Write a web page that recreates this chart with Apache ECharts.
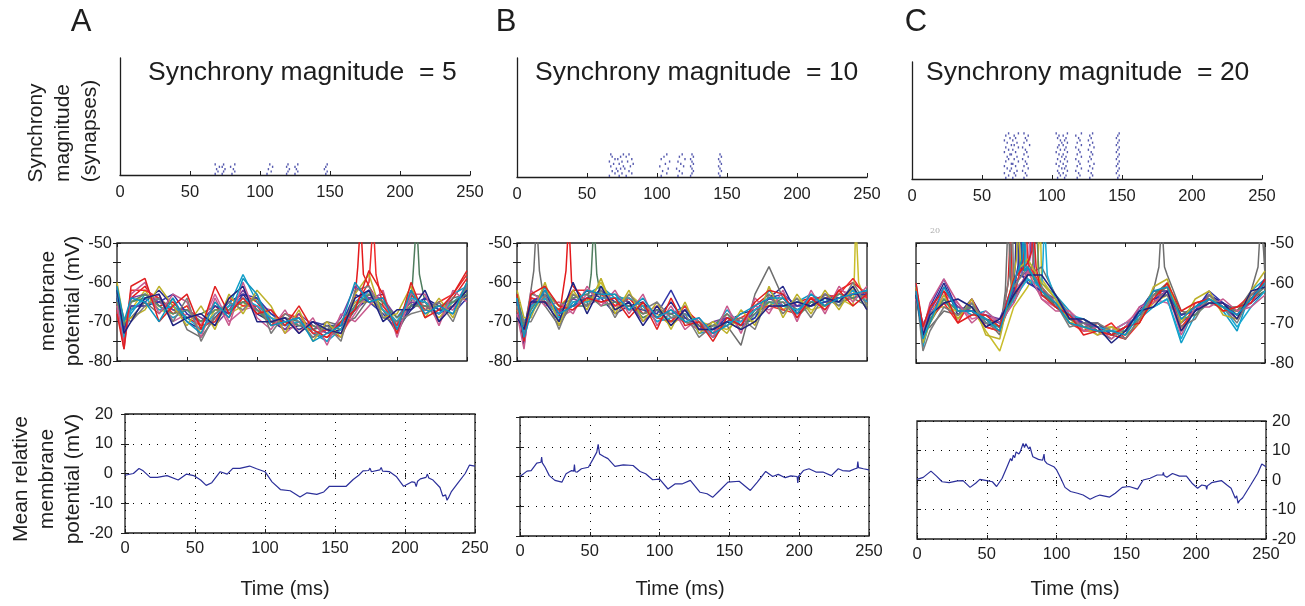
<!DOCTYPE html>
<html>
<head>
<meta charset="utf-8">
<title>Synchrony magnitude</title>
<script src="https://cdn.jsdelivr.net/npm/echarts@6/dist/echarts.min.js"></script>
<style>
html, body { margin: 0; padding: 0; background: #fff; }
#main { width: 1305px; height: 606px; }
</style>
</head>
<body>
<div id="main"></div>
<script>
// ---- data ----
const panelLetters = ['A', 'B', 'C'];
const magnitudes = [5, 10, 20];

// raster: one row per synapse, spike times (ms)
const rasterA = [
  [68, 73, 80, 105, 119, 125, 147],
  [70, 74, 82, 108, 120, 127, 148],
  [69, 75, 81, 106, 121, 126, 146],
  [71, 73, 79, 109, 119, 125, 147],
  [68, 74, 82, 107, 120, 127, 148]
];
const rasterB = [
  [66, 73, 78, 103, 115, 124, 145],
  [70, 75, 82, 107, 118, 125, 144],
  [68, 72, 80, 104, 116, 126, 146],
  [71, 74, 77, 108, 114, 125, 145],
  [67, 76, 81, 102, 119, 124, 144],
  [69, 73, 83, 106, 117, 126, 146],
  [66, 75, 79, 109, 115, 125, 145],
  [70, 72, 82, 103, 120, 124, 144],
  [68, 74, 78, 105, 116, 126, 146],
  [67, 76, 80, 107, 118, 125, 145]
];
const rasterC = [
  [67, 72, 80, 104, 109, 118, 127, 147],
  [69, 74, 82, 106, 110, 120, 129, 148],
  [66, 73, 81, 105, 108, 119, 128, 146],
  [70, 75, 79, 104, 111, 117, 126, 147],
  [68, 71, 83, 107, 109, 121, 129, 148],
  [66, 74, 80, 105, 110, 118, 127, 146],
  [71, 72, 82, 103, 108, 120, 130, 147],
  [67, 76, 81, 106, 111, 119, 126, 148],
  [69, 73, 79, 104, 109, 117, 128, 146],
  [68, 75, 83, 107, 110, 121, 127, 147],
  [70, 71, 80, 105, 108, 118, 129, 148],
  [66, 74, 82, 103, 111, 120, 128, 146],
  [69, 72, 81, 106, 109, 119, 126, 147],
  [67, 76, 79, 104, 110, 117, 130, 148],
  [71, 73, 84, 105, 108, 121, 127, 146],
  [68, 75, 80, 107, 111, 118, 129, 147],
  [66, 72, 82, 106, 109, 120, 126, 148],
  [70, 74, 81, 104, 110, 119, 128, 146],
  [67, 73, 83, 105, 108, 117, 127, 147],
  [69, 76, 80, 103, 111, 121, 129, 148]
];

// membrane potential traces (mV) sampled at traceTimes
const traceTimes = [0, 5, 10, 20, 30, 40, 50, 60, 70, 80, 90, 100, 110, 120, 130, 140, 150, 160, 170, 180, 190, 200, 210, 220, 230, 240, 250];
const tracesA = [
  [-65,-74,-64,-61,-66,-65,-69,-71,-66,-69,-63,-65,-70,-71,-68,-73,-74,-72,-64,-61,-67,-71,-63,-67,-68,-64,-59],
  [-63,-71,-67,-65,-62,-66,-70,-72,-69,-65,-63,-68,-70,-72,-71,-70,-73,-72,-67,-64,-63,-72,-67,-64,-66,-67,-63],
  [-62,-72,-68,-63,-66,-69,-67,-71,-70,-66,-58,-65,-68,-71,-69,-73,-75,-70,-65,-62,-65,-69,-64,-67,-68,-63,-61],
  [-64,-73,-65,-64,-64,-67,-69,-68,-66,-67,-65,-67,-71,-69,-70,-72,-71,-72,-67,-63,-66,-70,-66,-65,-67,-66,-62],
  [-66,-71,-67,-62,-67,-68,-66,-73,-67,-68,-66,-64,-69,-70,-72,-71,-73,-70,-65,-65,-67,-70,-65,-66,-69,-65,-64],
  [-65,-75,-66,-66,-63,-70,-68,-71,-63,-70,-67,-66,-67,-73,-70,-74,-72,-73,-68,-62,-65,-71,-64,-68,-66,-67,-60],
  [-64,-70,-69,-65,-68,-64,-72,-74,-69,-66,-65,-64,-70,-69,-71,-72,-70,-71,-69,-64,-67,-73,-66,-65,-70,-64,-63],
  [-63,-73,-64,-63,-65,-67,-67,-69,-71,-67,-62,-67,-69,-72,-68,-71,-73,-69,-61,-64,-64,-69,-65,-66,-68,-66,-61],
  [-67,-76,-62,-62,-64,-68,-66,-71,-70,-64,-66,-66,-71,-68,-69,-73,-72,-74,-66,-60,-66,-71,-62,-67,-65,-63,-58],
  [-64,-72,-66,-66,-65,-63,-68,-70,-66,-68,-63,-64,-68,-70,-72,-70,-71,-71,-63,-65,-68,-72,-66,-64,-67,-68,-64],
  [-63,-74,-67,-64,-67,-66,-69,-72,-68,-66,-64,-66,-69,-71,-70,-72,-75,-72,-66,-62,-67,-70,-64,-65,-68,-65,-62],
  [-65,-71,-65,-63,-66,-68,-67,-70,-67,-67,-65,-67,-70,-70,-71,-71,-72,-70,-66,-63,-65,-69,-66,-66,-66,-65,-63],
  [-60,-70,-69,-67,-61,-66,-71,-66,-72,-63,-68,-62,-66,-73,-67,-75,-70,-74,-63,-58,-69,-68,-61,-69,-64,-69,-60],
  [-66,-77,-63,-60,-68,-63,-65,-74,-64,-71,-60,-69,-72,-67,-73,-69,-76,-68,-70,-66,-62,-74,-63,-63,-71,-62,-65],
  [-63,-69,-70,-66,-64,-70,-64,-75,-68,-65,-67,-63,-73,-68,-70,-74,-71,-75,-62,-61,-69,-70,-68,-67,-65,-70,-61],
  [-68,-77,-61,-59,-70,-66,-63,-72,-61,-68,-64,-68,-67,-71,-66,-72,-74,-70,-67,-57,-63,-73,-60,-69,-67,-63,-57],
  [-62,-73,-70,-64,-63,-71,-69,-68,-71,-64,-61,-70,-70,-69,-73,-70,-72,-73,-64,-62,-70,-67,-67,-62,-70,-66,-62],
  [-61,-70,-64,-65,-70,-64,-70,-73,-65,-69,-59,-63,-71,-70,-69,-75,-73,-71,-60,-65,-64,-72,-62,-68,-66,-68,-60]
];
const tracesB = [
  [-67,-73,-66,-62,-69,-61,-65,-62,-66,-64,-68,-67,-70,-67,-70,-73,-68,-71,-66,-63,-67,-65,-64,-66,-62,-60,-63],
  [-65,-76,-64,-65,-67,-66,-62,-64,-68,-66,-65,-69,-65,-70,-72,-71,-70,-68,-67,-64,-61,-68,-66,-63,-65,-62,-65],
  [-64,-70,-67,-61,-70,-64,-63,-61,-64,-67,-66,-70,-68,-66,-73,-72,-67,-71,-69,-62,-66,-65,-63,-65,-63,-64,-62],
  [-63,-72,-63,-64,-67,-66,-66,-64,-63,-65,-69,-67,-70,-69,-71,-74,-70,-72,-67,-66,-64,-67,-65,-64,-66,-63,-64],
  [-67,-70,-68,-63,-66,-63,-65,-60,-67,-63,-66,-68,-71,-68,-70,-71,-72,-69,-70,-65,-67,-64,-67,-66,-64,-66,-66],
  [-66,-74,-65,-64,-69,-67,-63,-65,-66,-66,-68,-66,-69,-70,-72,-73,-68,-70,-66,-67,-65,-66,-64,-67,-62,-63,-64],
  [-65,-73,-62,-66,-71,-65,-64,-63,-65,-67,-67,-69,-67,-69,-71,-72,-71,-76,-63,-56,-64,-67,-66,-65,-65,-64,-63],
  [-68,-71,-66,-62,-68,-64,-66,-64,-64,-65,-70,-67,-68,-67,-72,-70,-69,-70,-68,-64,-66,-66,-65,-63,-64,-62,-65],
  [-66,-72,-64,-65,-67,-62,-62,-63,-66,-64,-66,-69,-70,-66,-71,-73,-70,-69,-67,-66,-67,-68,-64,-64,-63,-59,-64],
  [-65,-71,-65,-63,-68,-66,-64,-62,-65,-66,-67,-68,-62,-69,-71,-72,-69,-71,-69,-64,-63,-66,-66,-65,-64,-63,-63],
  [-64,-73,-66,-64,-69,-65,-65,-64,-64,-64,-66,-70,-69,-68,-70,-74,-70,-70,-67,-65,-66,-67,-65,-64,-65,-62,-65],
  [-66,-71,-67,-62,-66,-64,-63,-66,-65,-66,-68,-67,-68,-70,-71,-71,-68,-72,-68,-65,-65,-69,-65,-66,-63,-64,-66],
  [-62,-69,-69,-60,-71,-62,-67,-59,-68,-62,-70,-65,-72,-65,-73,-70,-73,-67,-71,-61,-69,-63,-68,-62,-67,-61,-67],
  [-68,-77,-62,-66,-65,-68,-61,-66,-62,-68,-63,-71,-66,-72,-69,-74,-66,-73,-64,-68,-62,-70,-62,-68,-61,-65,-61],
  [-66,-70,-70,-63,-72,-63,-66,-62,-69,-63,-67,-65,-69,-68,-74,-71,-71,-69,-72,-63,-68,-64,-69,-63,-66,-60,-66],
  [-63,-75,-63,-61,-66,-67,-64,-65,-64,-69,-65,-72,-64,-71,-70,-75,-69,-71,-65,-62,-63,-69,-64,-67,-62,-66,-63],
  [-69,-72,-65,-65,-70,-60,-68,-61,-67,-65,-71,-66,-71,-67,-72,-72,-70,-72,-70,-66,-66,-65,-66,-64,-65,-61,-67],
  [-64,-74,-68,-62,-68,-66,-62,-63,-63,-67,-64,-69,-67,-70,-69,-73,-71,-68,-66,-64,-64,-68,-63,-66,-64,-63,-62]
];
const tracesC = [
  [-63,-73,-68,-62,-66,-67,-71,-72,-64,-57,-61,-66,-68,-72,-70,-73,-74,-69,-65,-60,-71,-67,-63,-66,-68,-63,-60],
  [-62,-74,-67,-60,-68,-64,-70,-71,-60,-59,-63,-65,-69,-69,-72,-71,-72,-67,-62,-62,-68,-66,-63,-65,-67,-65,-62],
  [-60,-76,-69,-65,-66,-68,-67,-70,-64,-60,-60,-63,-67,-71,-71,-72,-70,-69,-66,-64,-75,-68,-64,-67,-72,-62,-59],
  [-63,-71,-70,-64,-69,-65,-70,-71,-61,-56,-63,-65,-69,-70,-72,-74,-71,-68,-63,-60,-68,-66,-65,-66,-66,-64,-62],
  [-61,-72,-66,-66,-67,-66,-72,-77,-66,-61,-59,-64,-70,-69,-71,-71,-72,-69,-65,-63,-70,-67,-63,-67,-67,-63,-61],
  [-64,-70,-68,-63,-65,-69,-68,-70,-62,-58,-64,-66,-67,-70,-73,-72,-70,-67,-64,-65,-69,-66,-65,-65,-68,-65,-60],
  [-62,-72,-71,-67,-68,-66,-69,-73,-65,-58,-56,-63,-68,-71,-70,-73,-71,-68,-62,-58,-67,-68,-64,-66,-67,-62,-58],
  [-63,-73,-67,-61,-66,-67,-68,-69,-60,-57,-62,-64,-69,-70,-71,-72,-73,-66,-64,-62,-70,-67,-63,-66,-69,-64,-61],
  [-62,-74,-69,-65,-70,-64,-71,-72,-63,-55,-61,-65,-70,-72,-72,-70,-74,-70,-63,-61,-72,-65,-64,-67,-66,-63,-60],
  [-61,-71,-66,-59,-67,-67,-69,-70,-62,-60,-62,-66,-68,-70,-70,-73,-71,-68,-64,-63,-68,-67,-62,-65,-68,-64,-59],
  [-60,-75,-68,-64,-67,-66,-70,-71,-64,-59,-61,-64,-68,-69,-71,-72,-72,-67,-66,-64,-74,-66,-64,-66,-71,-66,-62],
  [-63,-72,-69,-64,-67,-66,-69,-71,-63,-58,-62,-66,-69,-71,-72,-73,-72,-69,-63,-61,-69,-68,-65,-66,-67,-64,-61],
  [-61,-75,-70,-63,-69,-64,-73,-74,-58,-54,-60,-64,-70,-71,-73,-71,-73,-70,-61,-59,-70,-64,-62,-68,-69,-62,-57],
  [-64,-72,-65,-59,-65,-70,-67,-70,-65,-57,-64,-67,-67,-72,-71,-74,-71,-66,-65,-62,-73,-66,-66,-64,-67,-66,-63],
  [-62,-77,-72,-66,-68,-65,-70,-72,-61,-56,-61,-65,-71,-70,-70,-72,-74,-69,-63,-63,-71,-69,-63,-66,-70,-63,-60],
  [-60,-71,-66,-62,-70,-68,-68,-71,-59,-55,-63,-66,-68,-73,-72,-73,-71,-70,-64,-60,-67,-65,-64,-67,-66,-65,-59],
  [-63,-73,-68,-65,-64,-66,-71,-69,-63,-58,-58,-63,-69,-69,-71,-75,-72,-67,-66,-62,-72,-67,-65,-65,-69,-62,-61],
  [-62,-74,-70,-61,-67,-67,-69,-72,-60,-56,-62,-65,-70,-71,-72,-72,-73,-68,-62,-61,-69,-66,-64,-66,-68,-64,-60]
];
// action potentials (clipped at -50), by trace index
const spikesA = [
  { trace: 0, pts: [[172, -56], [174, -44], [176, -58]] },
  { trace: 8, pts: [[181, -55], [183, -44], [185, -58]] },
  { trace: 3, pts: [[212, -55], [214, -44], [216, -58]] }
];
const spikesB = [
  { trace: 6, pts: [[12, -57], [14, -44], [16, -57]] },
  { trace: 0, pts: [[35, -57], [37, -44], [39, -60]] },
  { trace: 3, pts: [[53, -58], [55, -44], [57, -58]] },
  { trace: 4, pts: [[241, -58], [242, -44], [244, -60]] }
];
const spikesC = [
  { trace: 6, pts: [[64, -62], [66, -44], [68, -60]] },
  { trace: 0, pts: [[66, -60], [68, -44], [69, -62]] },
  { trace: 14, pts: [[67, -58], [69, -44]] },
  { trace: 1, pts: [[71, -56], [72, -44], [74, -58]] },
  { trace: 12, pts: [[72, -54], [73, -44], [75, -56]] },
  { trace: 9, pts: [[73, -56], [75, -44], [76, -58]] },
  { trace: 3, pts: [[74, -55], [75, -44], [77, -57]] },
  { trace: 2, pts: [[76, -55], [78, -44], [79, -57]] },
  { trace: 17, pts: [[76, -54], [77, -44], [78, -57]] },
  { trace: 8, pts: [[77, -54], [79, -44]] },
  { trace: 5, pts: [[81, -52], [82, -44], [84, -57]] },
  { trace: 7, pts: [[82, -53], [83, -44], [85, -58]] },
  { trace: 15, pts: [[83, -52], [84, -44], [86, -56]] },
  { trace: 11, pts: [[84, -55], [86, -44], [88, -57]] },
  { trace: 4, pts: [[87, -56], [89, -44]] },
  { trace: 10, pts: [[91, -54], [92, -44], [94, -58]] },
  { trace: 6, pts: [[174, -56], [176, -44], [178, -56]] },
  { trace: 6, pts: [[245, -56], [247, -44], [249, -52]] }
];

// mean relative membrane potential (mV), [time, value]
const meanA = [[0,-0.6],[6,0],[10,1.7],[13,0.9],[18,-1.3],[23,-1.3],[30,-0.7],[38,-2.2],[44,-0.2],[49,-0.7],
  [54,-2.2],[58,-4],[62,-3.1],[68,0.6],[73,-0.2],[77,1.7],[82,1.7],[89,2.5],[94,1.6],[100,0.6],
  [105,-2.8],[111,-5.4],[118,-5.8],[125,-7.9],[130,-6.5],[137,-7],[142,-6.2],[146,-4.3],[151,-4.3],[158,-4.3],
  [163,-2],[167,-0.6],[170,0.9],[174,1.0],[175,1.8],[176,0.6],[177,1.2],[182,1.2],[183,2.0],[184,0.8],
  [189,0.6],[194,-1.1],[199,-4.3],[205,-2.8],[207,-3.0],[208,-4.4],[209,-2.6],[211,-1.8],[215,-1.3],[216,-0.2],
  [217,-1.5],[220,-2.2],[225,-4.7],[227,-7.6],[229,-7.2],[230,-9],[231,-8.2],[233,-6.2],[238,-3.1],[243,0],
  [246,2.8],[250,2.5]];
const meanB = [[0,0],[5,1.8],[8,2],[12,4.5],[15,4.8],[15.5,6.5],[16,4.6],[18,3.1],[21,0.3],[25,-1.3],
  [30,-1.9],[33,0.9],[37,2],[38.5,1.8],[39,4],[39.5,1.6],[41,1.5],[44,2.6],[49,3.1],[52,5.6],
  [55,8.2],[56,10.8],[57,7.6],[60,6.7],[63,6],[68,3.4],[74,3.9],[81,3.7],[86,1.7],[90,0.9],
  [95,-1.1],[100,-0.9],[106,-4.2],[111,-2.5],[116,-2.5],[122,-1.3],[129,-5.3],[134,-5.8],[138,-7],[143,-4.7],
  [149,-1.9],[157,-1.6],[165,-4.7],[170,-1.9],[176,1.7],[181,0],[185,0.7],[190,-0.4],[194,0.2],[198.5,0],
  [199,-2.2],[199.5,0],[203,2],[207,2.6],[212,1.5],[217,1.5],[223,0.3],[228,2.6],[231,2],[236,1.8],
  [240,2.6],[241.5,2.8],[242,5],[242.5,3],[246,2.6],[250,2.2]];
const meanC = [[0,0.2],[4.5,0.9],[10,3],[14,1.3],[18,-0.6],[23,-0.9],[29,-0.3],[33,-0.2],[38,-2.5],[42,-1.1],
  [45,0.2],[50,-0.2],[54,-0.6],[57,-2.2],[61,0.6],[64,3.9],[67,7.3],[68,6.5],[69,8.4],[70,7.6],
  [71,9.5],[72,10.1],[73,8.8],[74,9.6],[75,11],[76,12.4],[77,11],[78,12.3],[79,11.8],[80,10.5],
  [81,11.2],[82,9.4],[83,7.9],[87,7],[90,6.7],[91,8.8],[91.5,6.5],[93,5.6],[98,4.5],[100,3.4],
  [103,0.6],[106,-2.5],[110,-3.9],[115,-4.5],[119,-5.1],[124,-6.5],[128,-5.6],[131,-5.1],[138,-5.8],[142,-4.5],
  [147,-2.5],[152,-2.2],[158,-3.1],[162,0],[167,0.6],[172,1.7],[176,1.7],[176.5,2.6],[177,1.5],[179,0.9],
  [183,2.2],[188,1.3],[193,1.3],[197,-1.1],[201,-2.8],[204,-1.7],[207,-2],[207.5,-3.2],[208,-2],[211,-0.9],
  [218,-0.2],[222,-1.7],[225,-2.8],[228,-6.2],[229,-5.4],[230,-7.9],[231,-7],[233,-6.2],[234,-5.5],[235,-5.1],
  [239,-1.7],[244,2.2],[247,5.4],[250,4.5]];

// ---- layout / style ----
const FONT = '"Liberation Sans", Arial, Helvetica, sans-serif';
const INK = '#1e1e1e';
const BLUE = '#2b2f9a';
const TICK_FONT = 16.5;
const palette = ['#e41a1c', '#262a8c', '#0f9ec8', '#4f7d5e', '#c9bd2b', '#d0649b',
  '#6e6e6e', '#7b3fa0', '#ef2b2b', '#3236a8', '#18a9d2', '#5d8a68',
  '#bdb12a', '#c85a8e', '#7c7c7c', '#e02020', '#1f2380', '#0d94bf'];

const rasterBoxes = [[120, 58, 350, 117], [517, 58, 350, 119], [912, 62, 350, 117]];
const traceBoxes = [[117, 243, 350, 118], [517, 243, 350, 118], [916, 243, 349, 120]];
const meanBoxes = [[125, 414, 350, 119], [520, 417, 349, 119], [917, 421, 349, 118]];

let grids = [], xAxis = [], yAxis = [], series = [];

function addPanel(box, o) {
  const g = grids.length;
  grids.push({
    left: box[0], top: box[1], width: box[2], height: box[3],
    show: !!o.box, borderColor: INK, borderWidth: 1.3, backgroundColor: 'transparent'
  });
  const xi = xAxis.length, yi = yAxis.length;
  xAxis.push({
    gridIndex: g, type: 'value', min: 0, max: 250, interval: 50, position: 'bottom',
    axisLine: { show: !o.box, onZero: false, lineStyle: { color: INK, width: 1.3 } },
    axisTick: { show: true, inside: true, length: 4, lineStyle: { color: INK } },
    axisLabel: { show: !!o.xLabels, color: INK, fontSize: TICK_FONT, fontFamily: FONT, margin: o.xMargin || 8 },
    splitLine: { show: !!o.dotted, lineStyle: { color: '#000', width: 1, type: [1, 7] } }
  });
  yAxis.push({
    gridIndex: g, type: 'value', min: o.yMin, max: o.yMax, interval: o.yInt,
    position: o.yRight ? 'right' : 'left',
    axisLine: { show: !o.box, onZero: false, lineStyle: { color: INK, width: 1.3 } },
    axisTick: { show: !!o.box, inside: true, length: 4, lineStyle: { color: INK } },
    axisLabel: {
      show: !!o.yLabels, color: INK, fontSize: TICK_FONT, fontFamily: FONT, margin: o.yMargin || 6,
      formatter: v => (v % 10 === 0 ? String(v) : '')
    },
    splitLine: { show: !!o.dotted, lineStyle: { color: '#000', width: 1, type: [1, 7] } }
  });
  if (o.box) {
    // MATLAB style box: ticks on the opposite sides too
    xAxis.push({
      gridIndex: g, type: 'value', min: 0, max: 250, interval: 50, position: 'top',
      axisLine: { show: false }, axisTick: { show: true, inside: true, length: 4, lineStyle: { color: INK } },
      axisLabel: { show: false }, splitLine: { show: false }
    });
    yAxis.push({
      gridIndex: g, type: 'value', min: o.yMin, max: o.yMax, interval: o.yInt,
      position: o.yRight ? 'left' : 'right',
      axisLine: { show: false }, axisTick: { show: true, inside: true, length: 4, lineStyle: { color: INK } },
      axisLabel: { show: false }, splitLine: { show: false }
    });
  }
  return { xAxisIndex: xi, yAxisIndex: yi };
}

function mergeSpikes(values, spikes, k) {
  let pts = traceTimes.map((t, i) => [t, values[i]]);
  spikes.filter(s => s.trace === k).forEach(s => { pts = pts.concat(s.pts); });
  return pts.sort((a, b) => a[0] - b[0]);
}

const rasters = [rasterA, rasterB, rasterC];
const traces = [tracesA, tracesB, tracesC];
const spikes = [spikesA, spikesB, spikesC];
const means = [meanA, meanB, meanC];

for (let p = 0; p < 3; p++) {
  // top row: synchrony raster
  const r = addPanel(rasterBoxes[p], { xLabels: true, yMin: 0, yMax: 50, yInt: 10, xMargin: 9 });
  series.push(Object.assign({
    type: 'scatter', symbol: 'rect', symbolSize: [1.4, 2.2], silent: true,
    itemStyle: { color: BLUE },
    data: rasters[p].flatMap((row, i) => row.map(t => [t, i + 0.5]))
  }, r));

  // middle row: membrane potential traces
  const m = addPanel(traceBoxes[p], { box: true, yLabels: true, yRight: p === 2, yMin: -80, yMax: -50, yInt: 5, yMargin: 5 });
  traces[p].forEach((vals, k) => {
    series.push(Object.assign({
      type: 'line', showSymbol: false, silent: true, clip: true,
      lineStyle: { color: palette[k], width: 1.5 },
      data: mergeSpikes(vals, spikes[p], k)
    }, m));
  });

  // bottom row: mean relative potential
  const b = addPanel(meanBoxes[p], {
    box: true, dotted: true, xLabels: true, yLabels: p !== 1, yRight: p === 2,
    yMin: -20, yMax: 20, yInt: 10, xMargin: 7, yMargin: p === 2 ? 6 : 12
  });
  series.push(Object.assign({
    type: 'line', showSymbol: false, silent: true,
    lineStyle: { color: BLUE, width: 1.2 },
    data: means[p]
  }, b));
}

// ---- texts ----
function txt(x, y, text, size, extra) {
  return Object.assign({
    type: 'text', x: x, y: y, silent: true,
    style: { text: text, font: size + 'px ' + FONT, fill: INK, textAlign: 'center', textVerticalAlign: 'middle' }
  }, extra || {});
}
const vert = { rotation: Math.PI / 2 };
const graphic = [
  txt(81, 22, panelLetters[0], 31), txt(506, 22, panelLetters[1], 31), txt(916, 22, panelLetters[2], 31),
  txt(36, 133, 'Synchrony', 21, vert), txt(63, 133, 'magnitude', 21, vert), txt(90, 131, '(synapses)', 21, vert),
  txt(48, 301, 'membrane', 21, vert), txt(73, 301, 'potential (mV)', 21, vert),
  txt(21, 479, 'Mean relative', 21, vert), txt(47, 479, 'membrane', 21, vert), txt(73, 479, 'potential (mV)', 21, vert),
  txt(285, 589, 'Time (ms)', 20), txt(680, 589, 'Time (ms)', 20), txt(1075, 589, 'Time (ms)', 20),
  {
    type: 'text', x: 935, y: 231, silent: true,
    style: { text: '20', font: '8px "DejaVu Serif", serif', fill: '#aaa', textAlign: 'center', textVerticalAlign: 'middle' }
  }
];
const titleX = [148, 535, 926];
for (let p = 0; p < 3; p++) {
  graphic.push({
    type: 'text', x: titleX[p], y: 73, silent: true,
    style: {
      text: 'Synchrony magnitude  = ' + magnitudes[p], font: '26.5px ' + FONT, fill: INK,
      textAlign: 'left', textVerticalAlign: 'middle'
    }
  });
}

const myChart = echarts.init(document.getElementById('main'));
myChart.setOption({
  animation: false,
  backgroundColor: '#fff',
  grid: grids,
  xAxis: xAxis,
  yAxis: yAxis,
  series: series,
  graphic: graphic
});
</script>
</body>
</html>
